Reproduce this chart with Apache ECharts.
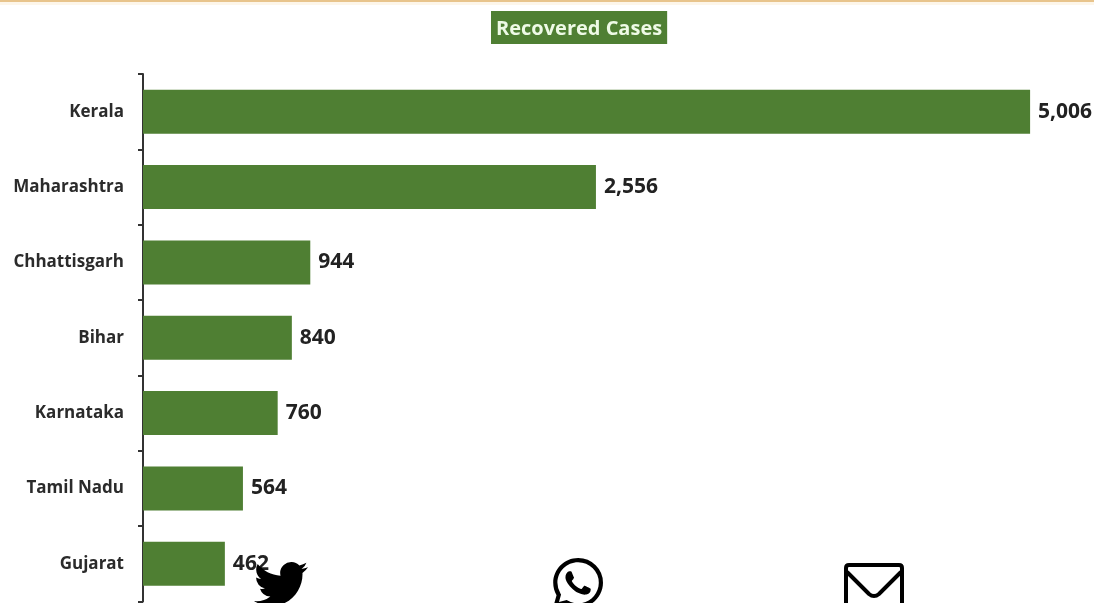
<!DOCTYPE html>
<html><head><meta charset="utf-8">
<style>html,body{margin:0;padding:0;background:#fff}#c{width:1094px;height:603px}</style>
<script src="https://cdn.jsdelivr.net/npm/echarts@6/dist/echarts.min.js"></script>
</head><body><div id="c"></div>
<script>
const categories = ['Kerala','Maharashtra','Chhattisgarh','Bihar','Karnataka','Tamil Nadu','Gujarat'];
const recovered = [5006,2556,944,840,760,564,462];
const titleText = 'Recovered Cases';
const twitterPath = 'M23.953 4.57a10 10 0 0 1-2.825.775 4.958 4.958 0 0 0 2.163-2.723c-.951.555-2.005.959-3.127 1.184a4.92 4.92 0 0 0-8.384 4.482C7.69 8.095 4.067 6.13 1.64 3.162a4.822 4.822 0 0 0-.666 2.475c0 1.71.87 3.213 2.188 4.096a4.904 4.904 0 0 1-2.228-.616v.06a4.923 4.923 0 0 0 3.946 4.827 4.996 4.996 0 0 1-2.212.085 4.936 4.936 0 0 0 4.604 3.417 9.867 9.867 0 0 1-6.102 2.105c-.39 0-.779-.023-1.17-.067a13.995 13.995 0 0 0 7.557 2.209c9.053 0 13.998-7.496 13.998-13.985 0-.21 0-.42-.015-.63A9.935 9.935 0 0 0 24 4.59z';
const whatsappPath = 'M17.472 14.382c-.297-.149-1.758-.867-2.03-.967-.273-.099-.471-.148-.67.15-.197.297-.767.966-.94 1.164-.173.199-.347.223-.644.075-.297-.15-1.255-.463-2.39-1.475-.883-.788-1.48-1.761-1.653-2.059-.173-.297-.018-.458.13-.606.134-.133.298-.347.446-.52.149-.174.198-.298.298-.497.099-.198.05-.371-.025-.52-.075-.149-.669-1.612-.916-2.207-.242-.579-.487-.5-.669-.51-.173-.008-.371-.01-.57-.01-.198 0-.52.074-.792.372-.272.297-1.04 1.016-1.04 2.479 0 1.462 1.065 2.875 1.213 3.074.149.198 2.096 3.2 5.077 4.487.709.306 1.262.489 1.694.625.712.227 1.36.195 1.871.118.571-.085 1.758-.719 2.006-1.413.248-.694.248-1.289.173-1.413-.074-.124-.272-.198-.57-.347m-5.421 7.403h-.004a9.87 9.87 0 0 1-5.031-1.378l-.361-.214-3.741.982.998-3.648-.235-.374a9.86 9.86 0 0 1-1.51-5.26c.001-5.45 4.436-9.884 9.888-9.884 2.64 0 5.122 1.03 6.988 2.898a9.825 9.825 0 0 1 2.893 6.994c-.003 5.45-4.437 9.884-9.885 9.884m8.413-18.297A11.815 11.815 0 0 0 12.05 0C5.495 0 .16 5.335.157 11.892c0 2.096.547 4.142 1.588 5.945L.057 24l6.305-1.654a11.882 11.882 0 0 0 5.683 1.448h.005c6.554 0 11.89-5.335 11.893-11.893a11.821 11.821 0 0 0-3.48-8.413z';
const envelopePath = 'M849 565H899Q902 565 902 568V625H846V568Q846 565 849 565ZM847 572L869 594Q874 598 879 594L901 572';
const font = '"Open Sans", Lato, sans-serif';
const chart = echarts.init(document.getElementById('c'), null, {renderer:'canvas'});
chart.setOption({
  animation:false,
  backgroundColor:'#fff',
  title:{
    text:titleText,left:491,top:11,padding:[7,5,3,5],
    backgroundColor:'#4f7f33',
    textStyle:{color:'#eefae6',fontFamily:font,fontWeight:'bold',fontSize:20,lineHeight:23}
  },
  grid:{left:143,top:74,width:939.2,height:527.5,containLabel:false},
  xAxis:{type:'value',min:0,max:5300,show:false},
  yAxis:{
    type:'category',inverse:true,data:categories,
    axisLine:{lineStyle:{color:'#333',width:2}},
    axisTick:{show:true,length:5,lineStyle:{color:'#333',width:2}},
    axisLabel:{color:'#2b2b2b',fontFamily:font,fontWeight:'bold',fontSize:17,margin:19,padding:[2,0,0,0]}
  },
  series:[{
    type:'bar',data:recovered,barWidth:44,
    itemStyle:{color:'#4f7f33'},
    label:{show:true,position:'right',distance:8,color:'#222',fontFamily:font,fontWeight:'bold',fontSize:21,padding:[6,0,0,0],
      formatter:p=>p.value.toLocaleString('en-US')}
  },{
    type:'custom',coordinateSystem:'none',data:[0],silent:true,z:20,clip:false,
    renderItem:()=>({type:'group',children:[
      {type:'path',shape:{pathData:twitterPath,x:254,y:562,width:54,height:44,layout:'cover'},style:{fill:'#000'}},
      {type:'path',shape:{pathData:whatsappPath,x:553,y:558,width:50,height:50,layout:'cover'},style:{fill:'#000'}},
      {type:'path',shape:{pathData:envelopePath,x:846,y:565,width:56,height:60,layout:'cover'},style:{fill:'none',stroke:'#000',lineWidth:4}}
    ]})
  }],
  graphic:[
    {type:'rect',z:10,shape:{x:0,y:0,width:1094,height:2},style:{fill:'#e8c48c'}},
    {type:'rect',z:10,shape:{x:0,y:2,width:1094,height:3},style:{fill:'#fdf6ea'}}
  ]
});
</script></body></html>
